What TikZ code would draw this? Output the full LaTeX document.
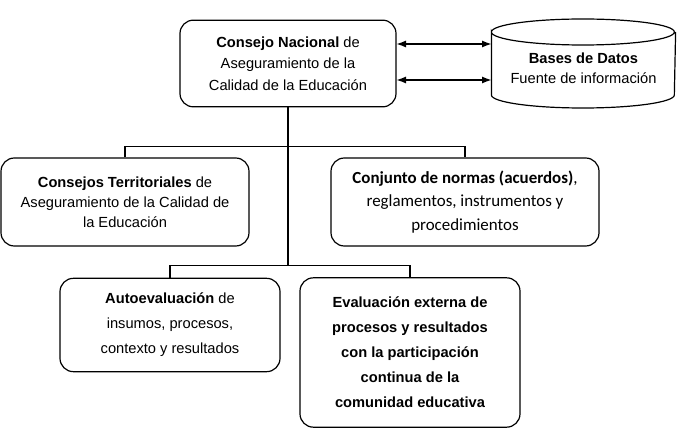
\documentclass[tikz,border=0pt]{standalone}
\usepackage{fontspec}
\setmainfont{Liberation Sans}
\newfontfamily\calibri{Carlito}
\usetikzlibrary{arrows.meta,shapes.geometric}

\begin{document}
\begin{tikzpicture}[x=0.75pt, y=-0.75pt, line width=0.9pt,
  box/.style={draw, rounded corners=10pt, align=center, inner sep=2pt}]
  \useasboundingbox (0,0) rectangle (682,442);

  % Top node
  \node[box, minimum width=162pt, minimum height=65pt, font=\fontsize{11}{16}\selectfont] (cn) at (288,63.5) {\textbf{Consejo Nacional} de\\Aseguramiento de la\\Calidad de la Educación};

  % Data store (cylinder outline drawn round the text)
  \node[minimum width=137.25pt, inner sep=0pt, align=center, font=\fontsize{11}{15}\selectfont] (db) at (583.5,68) {\textbf{Bases de Datos}\\Fuente de información};
  \draw ([yshift=27pt]db.west) arc[start angle=180, end angle=-180, x radius=68.6pt, y radius=9.75pt]
    -- ([yshift=-20.25pt]db.west) arc[start angle=180, end angle=360, x radius=68.6pt, y radius=9.75pt]
    -- ([yshift=27pt]db.east);

  \coordinate (h1) at (0,44);
  \coordinate (h2) at (0,80);
  \draw[{Latex}-{Latex}] (cn.east |- h1) -- (db.west |- h1);
  \draw[{Latex}-{Latex}] (cn.east |- h2) -- (db.west |- h2);

  % Second level
  \node[box, minimum width=186pt, minimum height=66pt, font=\fontsize{11}{15}\selectfont] (ct) at (125,202) {\textbf{Consejos Territoriales} de\\Aseguramiento de la Calidad de\\la Educación};
  \node[box, minimum width=201pt, minimum height=66pt, font=\calibri\fontsize{12.7}{17.6}\selectfont] (cj) at (465,202) {\textbf{Conjunto de normas (acuerdos)},\\reglamentos, instrumentos y\\procedimientos};

  % Third level
  \node[box, minimum width=165pt, minimum height=70pt, font=\fontsize{11}{18.75}\selectfont] (ae) at (170,325) {\textbf{Autoevaluación} de\\insumos, procesos,\\contexto y resultados};
  \node[box, minimum width=165pt, minimum height=112pt, font=\bfseries\fontsize{11}{18.75}\selectfont] (ee) at (410,352.5) {Evaluación externa de\\procesos y resultados\\con la participación\\continua de la\\comunidad educativa};

  % Trunk and branches
  \coordinate (j2) at (0,266);
  \draw (cn.south) -- (cn.south |- j2);
  \draw (ct.north) -- ++(0,-11) -| (cj.north);
  \draw (ae.north) -- ++(0,-12) -| (ee.north);
\end{tikzpicture}
\end{document}
